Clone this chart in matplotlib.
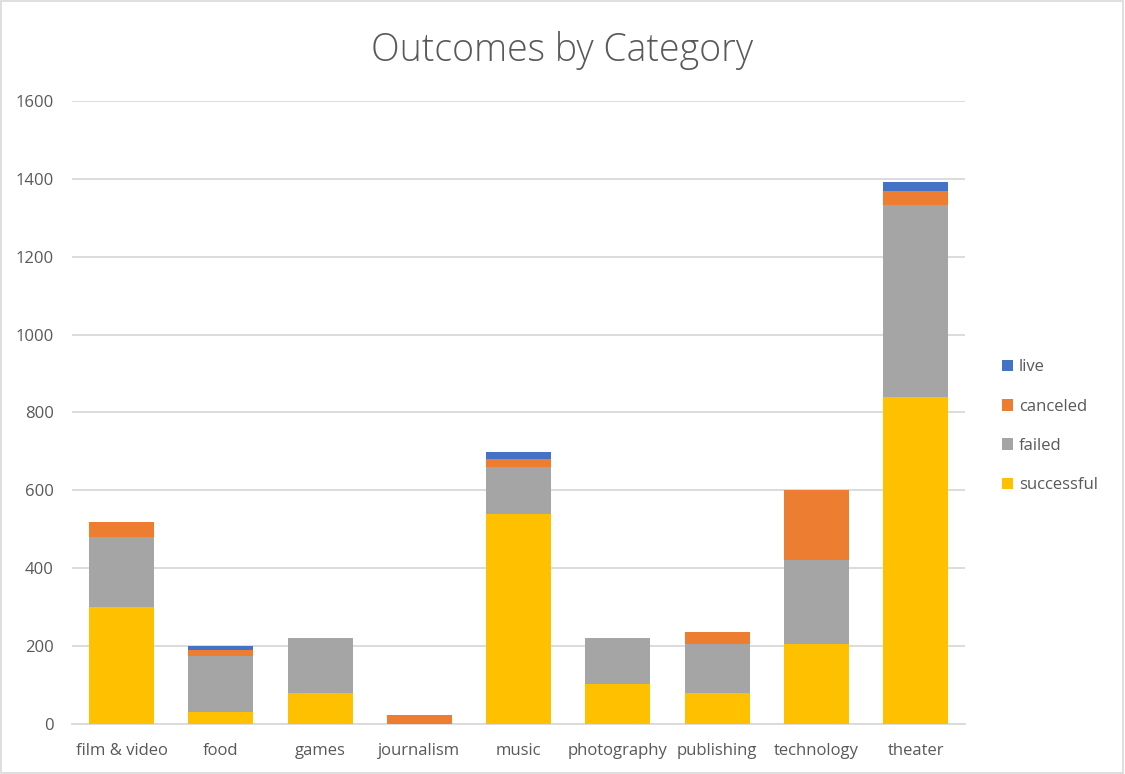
import matplotlib
matplotlib.use("Agg")
import matplotlib.pyplot as plt
import numpy as np

plt.rcParams['font.family'] = ['Open Sans', 'DejaVu Sans']

categories = ['film & video', 'food', 'games', 'journalism', 'music',
              'photography', 'publishing', 'technology', 'theater']
successful = [300, 32, 80, 0, 540, 102, 80, 206, 839]
failed = [180, 142, 140, 0, 120, 118, 125, 214, 493]
canceled = [40, 16, 0, 24, 20, 0, 30, 180, 37]
live = [0, 10, 0, 0, 18, 0, 0, 0, 24]

colors = {'successful': '#ffc000', 'failed': '#a5a5a5',
          'canceled': '#ed7d31', 'live': '#4472c4'}
text_col = '#595959'
grid_col = '#d9d9d9'

fig = plt.figure(figsize=(11.25, 7.74), dpi=100)
ax = fig.add_axes([0.064, 0.0646, 0.794, 0.805])

x = np.arange(len(categories))
w = 0.655
bottom = np.zeros(len(categories))
handles = []
for name, vals in [('successful', successful), ('failed', failed),
                   ('canceled', canceled), ('live', live)]:
    h = ax.bar(x, vals, w, bottom=bottom, color=colors[name], label=name, zorder=3)
    handles.append(h)
    bottom += np.array(vals)

ax.set_xlim(-0.5, len(categories) - 0.5)
ax.set_ylim(0, 1600)
ax.set_yticks(range(0, 1601, 200))
ax.yaxis.grid(True, color=grid_col, linewidth=1.3, zorder=0)
for s in ['top', 'right', 'left']:
    ax.spines[s].set_visible(False)
ax.spines['bottom'].set_color(grid_col)
ax.spines['bottom'].set_linewidth(1.3)
ax.set_xticks(x)
ax.set_xticklabels(categories)
ax.tick_params(axis='both', length=0, labelsize=12, colors=text_col)
ax.tick_params(axis='y', pad=13)
ax.tick_params(axis='x', pad=14)

fig.suptitle('Outcomes by Category', y=0.96, fontsize=27, color=text_col,
             fontweight='light')

leg = fig.legend(handles[::-1], ['successful', 'failed', 'canceled', 'live'][::-1],
                 loc='center left', bbox_to_anchor=(0.877, 0.449), frameon=False,
                 fontsize=12, labelcolor=text_col, handlelength=0.7, handleheight=0.7,
                 handletextpad=0.35, labelspacing=1.4)

fig.add_artist(plt.Rectangle((0.0005, 0.0008), 0.998, 0.998, transform=fig.transFigure,
                             fill=False, edgecolor=grid_col, linewidth=1.2))

fig.savefig('out.png', dpi=100)
